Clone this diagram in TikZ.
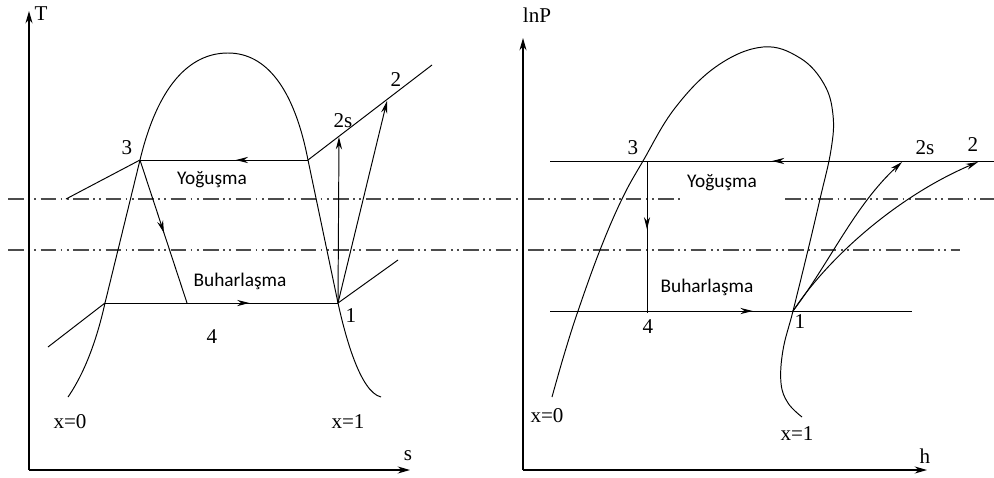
\documentclass[tikz,border=0pt]{standalone}
\usepackage{fontspec}
\setmainfont{Liberation Serif}
\newfontfamily\bolgefont{Carlito}
\usetikzlibrary{arrows.meta,decorations.markings}

\begin{document}
\begin{tikzpicture}[x=0.02cm,y=-0.02cm,
        cizgi/.style={line width=0.55pt},
        eksen/.style={line width=0.8pt,-{Stealth[length=7pt,width=4pt]}},
        ok/.style={cizgi,-{Stealth[length=7pt,width=3.5pt]}},
        ortaok/.style={cizgi,postaction={decorate},decoration={markings,
            mark=at position #1 with {\arrow{Stealth[length=7pt,width=3.5pt]}}}},
        ortaok/.default=0.5,
        noktadizi/.style={line width=0.6pt,black!70,
            dash pattern=on 9pt off 2.5pt on 1pt off 2.5pt on 1pt off 2.5pt},
        etiket/.style={font=\fontsize{12}{14}\selectfont},
        bolge/.style={font=\bolgefont\fontsize{11}{13}\selectfont}
    ]
    \useasboundingbox (0,0) rectangle (994,477);

    % kesikli yardimci cizgiler
    \draw[noktadizi] (8,199) -- (682,199);
    \draw[noktadizi] (785,199) -- (994,199);
    \draw[noktadizi] (8,250) -- (960,250);

    %%%% T-s diyagrami
    \coordinate (O1) at (29,470);
    \coordinate (L3) at (140,160);
    \coordinate (Lk) at (308,160);
    \coordinate (Lf) at (105,303);
    \coordinate (L1) at (338,303);
    \coordinate (L4) at (187,303);
    \coordinate (L2s) at (339,137);
    \coordinate (L2) at (387,101);

    \draw[eksen] (O1) -- (29,11);
    \draw[eksen] (O1) -- (410,470);
    \node[etiket] (Tlab) at (41,14) {T};
    \node[etiket] (slab) at (408,456) {s};

    % doyma egrisi
    \draw[cizgi] (68,397) .. controls (88,368) and (99,330) .. (Lf) -- (L3)
        .. controls (158,85) and (190,53) .. (228,53)
        .. controls (266,53) and (294,88) .. (Lk) -- (L1)
        .. controls (345,335) and (360,392) .. (381,397);

    \draw[cizgi] (66,199) -- (L3);
    \draw[ortaok=0.43] (Lk) -- (L3);
    \draw[cizgi] (Lk) -- (432,65);
    \draw[cizgi] (48,347) -- (Lf);
    \draw[ortaok=0.62] (Lf) -- (L1);
    \draw[cizgi] (L1) -- (398,260);
    \draw[ortaok=0.51] (L3) -- (L4);
    \draw[ok] (L1) -- (L2s);
    \draw[ok] (L1) -- (L2);

    \node[etiket] (L3lab) at (127,148) {3};
    \node[etiket] (L2slab) at (343,121) {2s};
    \node[etiket] (L2lab) at (396,80) {2};
    \node[etiket] (L1lab) at (351,316) {1};
    \node[etiket] (L4lab) at (212,337) {4};
    \node[etiket] (Lx0) at (70,422) {x=0};
    \node[etiket] (Lx1) at (348,422) {x=1};
    \node[bolge] (Lyog) at (212,180) {Yoğuşma};
    \node[bolge] (Lbuh) at (240,281) {Buharlaşma};

    %%%% lnP-h diyagrami
    \coordinate (O2) at (523,470);
    \coordinate (R3) at (643,161);
    \coordinate (R3d) at (647,161);
    \coordinate (R4) at (647,313);
    \coordinate (R1) at (793,311);
    \coordinate (R2s) at (902,162);
    \coordinate (R2) at (978,162);

    \draw[eksen] (O2) -- (523,38);
    \draw[eksen] (O2) -- (927,470);
    \node[etiket] (Plab) at (537,15) {lnP};
    \node[etiket] (hlab) at (925,456) {h};

    % doyma egrisi
    \draw[cizgi] plot[smooth,tension=0.65] coordinates {(552,397) (564,355) (578,311)
        (600,250) (622,199) (643,161) (675,108) (717,66) (763,47) (800,58) (824,84)
        (833,115) (831,150) (820,199) (808,250) (793,311) (783,350) (781,383)
        (788,403) (802,417)};

    \draw[ortaok=0.5] (994,161) -- (550,161);
    \draw[ortaok=0.56] (550,311) -- (912,311);
    \draw[ortaok=0.45] (R3d) -- (R4);
    \draw[ok] (R1) .. controls (830,262) and (855,205) .. (R2s);
    \draw[ok] (R1) .. controls (830,255) and (900,195) .. (R2);

    \node[etiket] (R3lab) at (633,148) {3};
    \node[etiket] (R2slab) at (925,148) {2s};
    \node[etiket] (R2lab) at (973,145) {2};
    \node[etiket] (R1lab) at (800,322) {1};
    \node[etiket] (R4lab) at (648,327) {4};
    \node[etiket] (Rx0) at (547,416) {x=0};
    \node[etiket] (Rx1) at (797,434) {x=1};
    \node[bolge] (Ryog) at (722,183) {Yoğuşma};
    \node[bolge] (Rbuh) at (707,287) {Buharlaşma};
\end{tikzpicture}
\end{document}
